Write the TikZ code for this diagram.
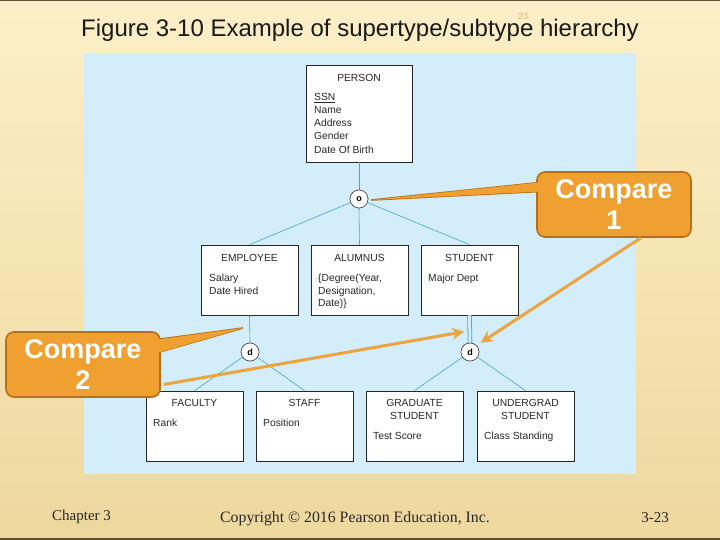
\documentclass[tikz,border=0pt]{standalone}
\usepackage{fontspec}
\setmainfont{Liberation Sans}
\newfontfamily\serifft{Liberation Serif}
\usetikzlibrary{arrows.meta,calc}
\definecolor{bgtop}{RGB}{252,239,200}
\definecolor{bgbot}{RGB}{238,216,158}
\definecolor{edgeline}{RGB}{90,80,50}
\definecolor{panelblue}{RGB}{212,237,250}
\definecolor{linkblue}{RGB}{60,168,208}
\definecolor{callfill}{RGB}{240,160,48}
\definecolor{callborder}{RGB}{184,112,24}
\definecolor{arrowor}{RGB}{236,164,64}
\definecolor{numtan}{RGB}{214,180,100}
\definecolor{inkgray}{RGB}{40,40,40}
\begin{document}
\begin{tikzpicture}[x=1pt,y=-1pt,
  ent/.style={draw=black!85, fill=white, line width=0.7pt, inner sep=0pt, minimum width=97pt, minimum height=70pt},
  etitle/.style={anchor=base, font=\fontsize{10.3}{12}\selectfont, text=inkgray, inner sep=0pt},
  attr/.style={anchor=base west, font=\fontsize{10.3}{12}\selectfont, text=inkgray, inner sep=0pt},
  circ/.style={circle, draw=black!70, fill=white, line width=0.6pt, minimum size=18pt, inner sep=0pt, font=\bfseries\fontsize{9}{10}\selectfont},
  link/.style={draw=linkblue, line width=0.6pt},
  callout/.style={draw=callborder, fill=callfill, line width=1.6pt, rounded corners=8pt, minimum width=154pt, minimum height=65pt, align=center, text=white, font=\bfseries\fontsize{27}{31}\selectfont},
  wedgeshape/.style={draw=callborder, fill=callfill, line width=1.6pt, line join=miter},
  pointer/.style={draw=arrowor, line width=3pt, -{Stealth[length=12pt,width=12pt]}},
  foot/.style={font=\serifft\fontsize{15}{18}\selectfont, text=inkgray, inner sep=0pt}
]
\useasboundingbox (0,0) rectangle (720,540);
% background
\shade[top color=bgtop, bottom color=bgbot] (0,0) rectangle (720,540);
\draw[edgeline, line width=1pt] (0,0.5) -- (720,0.5);
\draw[edgeline, line width=1.5pt] (0,539) -- (720,539);
\fill[panelblue] (84,53) rectangle (636,474);

% title
\node[anchor=base, font=\fontsize{24}{28}\selectfont, text=black!90, inner sep=0pt] (title) at (360,37) {Figure 3-10 Example of supertype/subtype hierarchy};
\node[font=\fontsize{9}{10}\selectfont, text=numtan, inner sep=0pt] (pgnum) at (523,16) {23};

% entities
\node[ent, minimum width=106pt, minimum height=97pt] (person) at (359,113.5) {};
\node[etitle] (personT) at (359,82) {PERSON};
\node[attr] (pa1) at (314,101) {\underline{SSN}};
\node[attr] (pa2) at (314,114) {Name};
\node[attr] (pa3) at (314,127) {Address};
\node[attr] (pa4) at (314,140) {Gender};
\node[attr] (pa5) at (314,154) {Date Of Birth};

\node[circ] (o) at (359,199) {o};

\node[ent] (emp) at (249.5,280) {};
\node[etitle] (empT) at (249.5,261) {EMPLOYEE};
\node[attr] (ea1) at (209,281) {Salary};
\node[attr] (ea2) at (209,294) {Date Hired};

\node[ent] (alum) at (359.5,280) {};
\node[etitle] (alumT) at (359.5,261) {ALUMNUS};
\node[attr] (aa1) at (318,281) {\{Degree(Year,};
\node[attr] (aa2) at (318,294) {Designation,};
\node[attr] (aa3) at (318,306) {Date)\}};

\node[ent] (stud) at (469.5,280) {};
\node[etitle] (studT) at (469.5,261) {STUDENT};
\node[attr] (sa1) at (428,281) {Major Dept};

\node[circ] (d1) at (250,352) {d};
\node[circ] (d2) at (470,352) {d};

\node[ent] (fac) at (194.5,426) {};
\node[etitle] (facT) at (194.5,406) {FACULTY};
\node[attr] (fa1) at (153,426) {Rank};

\node[ent] (staff) at (304.5,426) {};
\node[etitle] (staffT) at (304.5,406) {STAFF};
\node[attr] (sta1) at (263,426) {Position};

\node[ent] (grad) at (414.5,426) {};
\node[etitle] (gradT1) at (414.5,406) {GRADUATE};
\node[etitle] (gradT2) at (414.5,419) {STUDENT};
\node[attr] (ga1) at (373,439) {Test Score};

\node[ent] (ugrad) at (525.5,426) {};
\node[etitle] (ugradT1) at (525.5,406) {UNDERGRAD};
\node[etitle] (ugradT2) at (525.5,419) {STUDENT};
\node[attr] (ua1) at (484,439) {Class Standing};

% connectors
\draw[link] (person.south) -- (o.north);
\draw[link] (o) -- (emp.north);
\draw[link] (o.south) -- (alum.north);
\draw[link] (o) -- (stud.north);
\draw[link] (emp.south) -- (d1.north);
\draw[linkblue, line width=0.8pt, double=panelblue, double distance=3pt] (stud.south) -- (d2.north);
\draw[link] (d1) -- (fac.north);
\draw[link] (d1) -- (staff.north);
\draw[link] (d2) -- (grad.north);
\draw[link] (d2) -- (ugrad.north);
\node[circ] at (o) {o};
\node[circ] at (d1) {d};
\node[circ] at (d2) {d};

% callout 1
\coordinate (c1w) at (537,204.5);
\draw[wedgeshape] ($(c1w)+(3,-22)$) -- ($(o.east)+(3,1)$) -- ($(c1w)+(3,-13)$);
\node[callout] (c1) at (614,204.5) {Compare\\1};
\fill[callfill] ($(c1.west)+(3,-22)$) -- ($(o.east)+(3,1)$) -- ($(c1.west)+(3,-13)$) -- cycle;
\draw[pointer, shorten >=5pt] ($(c1.south)+(27,0)$) -- (d2.north east);

% callout 2
\coordinate (c2e) at (160,364.5);
\draw[wedgeshape] ($(c2e)+(-3,-25)$) -- ($(d1)+(-7,-24)$) -- ($(c2e)+(-2,-12)$);
\node[callout] (c2) at (83,364.5) {Compare\\2};
\fill[callfill] ($(c2.east)+(-3,-25)$) -- ($(d1)+(-7,-24)$) -- ($(c2.east)+(-2,-12)$) -- cycle;
\coordinate (c2tip) at ($(d2.north)+(-6,-11)$);
\draw[pointer] ($(c2.east)+(3,20)$) -- (c2tip);

% footer
\node[foot, anchor=base west] (chap) at (52,520) {Chapter 3};
\node[foot, anchor=base west, font=\serifft\fontsize{15.8}{18}\selectfont] (copy) at (220,522) {Copyright © 2016 Pearson Education, Inc.};
\node[foot, anchor=base east] (slide) at (669,522) {3-23};
\end{tikzpicture}
\end{document}
